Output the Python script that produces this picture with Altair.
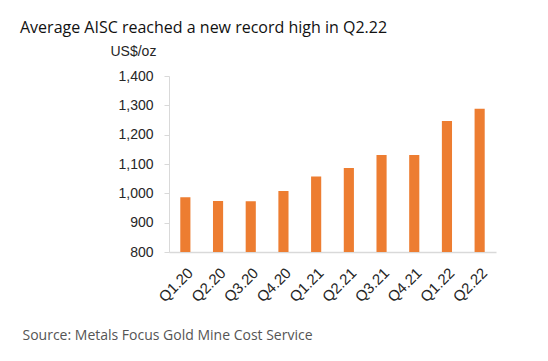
import altair as alt
import pandas as pd

quarters = ["Q1.20", "Q2.20", "Q3.20", "Q4.20", "Q1.21", "Q2.21", "Q3.21", "Q4.21", "Q1.22", "Q2.22"]
aisc = [987, 974, 973, 1008, 1057, 1086, 1131, 1131, 1247, 1288]
y_ticks = [800, 900, 1000, 1100, 1200, 1300, 1400]

title_text = "Average AISC reached a new record high in Q2.22"
y_title = "US$/oz"
source_text = "Source: Metals Focus Gold Mine Cost Service"

df = pd.DataFrame({"quarter": quarters, "aisc": aisc})

chart = alt.Chart(df).mark_bar(color="#ED7D31", clip=True).encode(
    x=alt.X(
        "quarter:N",
        sort=quarters,
        scale=alt.Scale(paddingInner=0.69, paddingOuter=0.345),
        axis=alt.Axis(
            title=source_text,
            titleAngle=0,
            titleAlign="left",
            titleAnchor="start",
            titleBaseline="middle",
            titleX=-147,
            titleY=83,
            titleFont="Open Sans",
            titleFontSize=14,
            titleFontWeight="normal",
            titleColor="#555555",
            labelAngle=-45,
            labelFont="Liberation Sans",
            labelFontSize=15,
            labelColor="#262626",
            labelPadding=13,
            ticks=False,
            domainColor="#d9d9d9",
            domainWidth=1.5,
        ),
    ),
    y=alt.Y(
        "aisc:Q",
        scale=alt.Scale(domain=[800, 1400], zero=False, nice=False),
        axis=alt.Axis(
            values=y_ticks,
            format=",.0f",
            title=y_title,
            titleAngle=0,
            titleAlign="left",
            titleBaseline="middle",
            titleX=-59,
            titleY=-25,
            titleFont="Liberation Sans",
            titleFontSize=14,
            titleFontWeight="normal",
            titleColor="#262626",
            labelFont="Liberation Sans",
            labelFontSize=14,
            labelColor="#262626",
            labelPadding=11,
            tickSize=5,
            tickColor="#d9d9d9",
            domainColor="#d9d9d9",
            grid=False,
        ),
    ),
).properties(
    width=327,
    height=176,
    autosize=alt.AutoSizeParams(type="none"),
    padding={"left": 161, "top": 68, "right": 44, "bottom": 101},
    title=alt.TitleParams(
        title_text,
        anchor="start",
        frame="group",
        dx=-149,
        dy=0,
        font="Open Sans",
        fontSize=16,
        fontWeight="normal",
        color="#111111",
        offset=8,
    ),
).configure_view(stroke=None)

chart.save("out.html", embed_options={"renderer": "svg", "actions": False})
